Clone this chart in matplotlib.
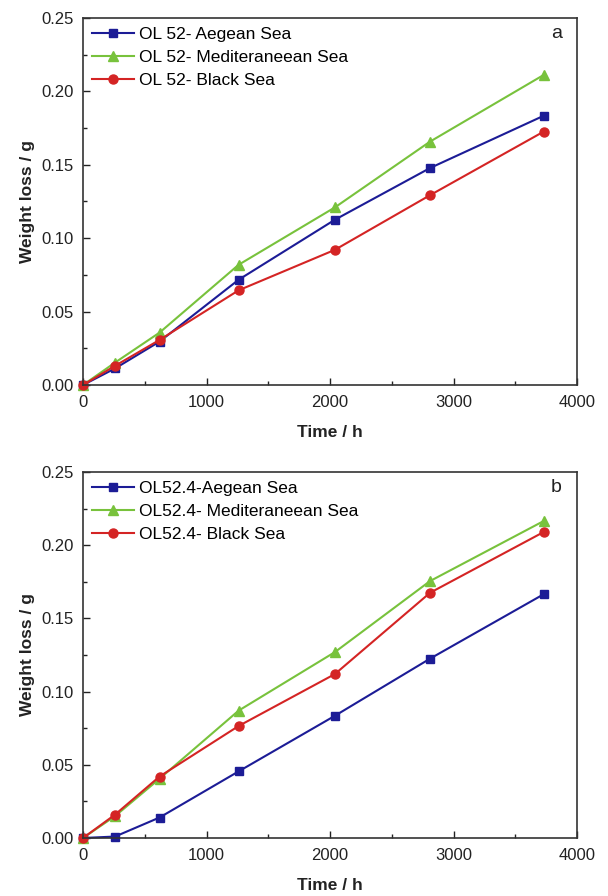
import matplotlib
matplotlib.use("Agg")
import matplotlib.pyplot as plt
from matplotlib.ticker import MultipleLocator, FormatStrFormatter

plt.rcParams['font.family'] = ['Liberation Sans', 'DejaVu Sans']

time_h = [0, 260, 620, 1260, 2040, 2810, 3730]

# Panel a
a_aegean = [0.0, 0.0113, 0.0296, 0.0717, 0.1126, 0.1478, 0.1834]
a_med = [0.0, 0.0153, 0.0357, 0.0819, 0.1210, 0.1658, 0.2112]
a_black = [0.0, 0.0131, 0.0307, 0.0645, 0.0921, 0.1293, 0.1726]
a_labels = ["OL 52- Aegean Sea", "OL 52- Mediteraneean Sea", "OL 52- Black Sea"]

# Panel b
b_aegean = [0.0, 0.0010, 0.0140, 0.0455, 0.0835, 0.1225, 0.1665]
b_med = [0.0, 0.0150, 0.0405, 0.0870, 0.1270, 0.1755, 0.2165]
b_black = [0.0, 0.0160, 0.0420, 0.0765, 0.1120, 0.1675, 0.2090]
b_labels = ["OL52.4-Aegean Sea", "OL52.4- Mediteraneean Sea", "OL52.4- Black Sea"]

colors = ["#1c1c96", "#78c23c", "#d42424"]
markers = ["s", "^", "o"]
msizes = [5.5, 6.5, 6.5]

W, H = 608, 896
fig = plt.figure(figsize=(W / 100, H / 100), dpi=100)

def make_axes(top_px, bottom_px):
    left, right = 83, 577
    return fig.add_axes([left / W, 1 - bottom_px / H, (right - left) / W, (bottom_px - top_px) / H])

ax_a = make_axes(18, 385)
ax_b = make_axes(472, 838)

for ax, series, labels, letter in [
    (ax_a, [a_aegean, a_med, a_black], a_labels, "a"),
    (ax_b, [b_aegean, b_med, b_black], b_labels, "b"),
]:
    for vals, lab, c, m, ms in zip(series, labels, colors, markers, msizes):
        ax.plot(time_h, vals, color=c, marker=m, markersize=ms, linewidth=1.5,
                label=lab, clip_on=False)
    ax.set_xlim(0, 4000)
    ax.set_ylim(0, 0.25)
    ax.xaxis.set_major_locator(MultipleLocator(1000))
    ax.xaxis.set_minor_locator(MultipleLocator(500))
    ax.yaxis.set_major_locator(MultipleLocator(0.05))
    ax.yaxis.set_minor_locator(MultipleLocator(0.025))
    ax.yaxis.set_major_formatter(FormatStrFormatter('%.2f'))
    ax.tick_params(which='both', direction='in', top=False, right=False, labelsize=12,
                   colors='#222222')
    ax.tick_params(which='major', length=5, width=1)
    ax.tick_params(which='minor', length=3, width=1)
    ax.tick_params(axis='x', pad=7.5)
    ax.tick_params(axis='y', pad=7)
    for sp in ax.spines.values():
        sp.set_linewidth(1.2)
        sp.set_color('#333333')
    ax.set_xlabel("Time / h", fontsize=12.5, fontweight='bold', color='#222222')
    ax.set_ylabel("Weight loss / g", fontsize=12.5, fontweight='bold', color='#222222')
    ax.xaxis.set_label_coords(0.5, -0.108)
    ax.yaxis.set_label_coords(-0.097, 0.5)
    ax.text(0.958, 0.958, letter, transform=ax.transAxes, fontsize=14, ha='center', va='center',
            color='#222222')
    ax.legend(loc='upper left', bbox_to_anchor=(0.012, 0.984), frameon=False, fontsize=12.5,
              handlelength=2.4, handletextpad=0.3, labelspacing=0.45, borderpad=0.2,
              borderaxespad=0)

fig.savefig("out.png", dpi=100)
